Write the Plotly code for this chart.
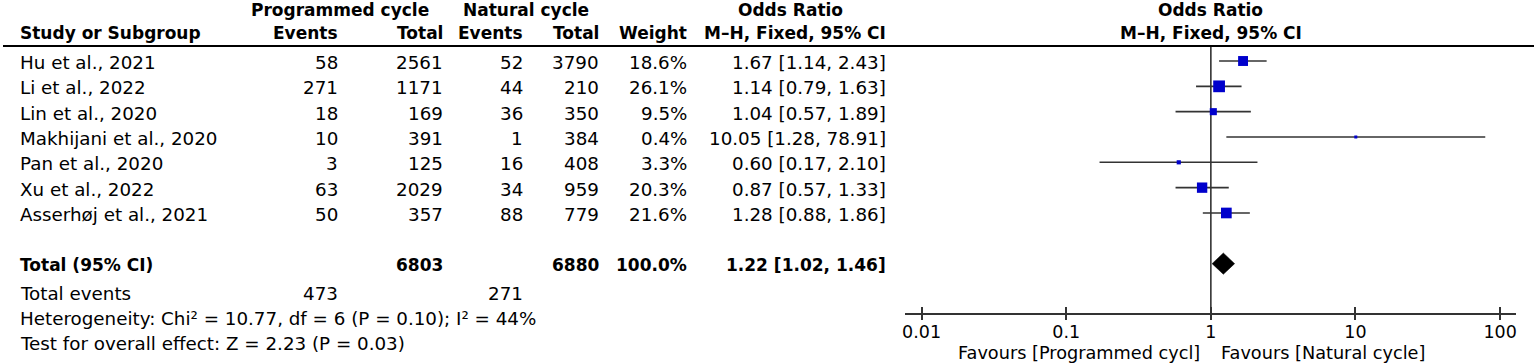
import math
import plotly.graph_objects as go

# ---------------- data ----------------
studies = ["Hu et al., 2021", "Li et al., 2022", "Lin et al., 2020",
           "Makhijani et al., 2020", "Pan et al., 2020", "Xu et al., 2022",
           "Asserhøj et al., 2021"]
prog_events = [58, 271, 18, 10, 3, 63, 50]
prog_total = [2561, 1171, 169, 391, 125, 2029, 357]
nat_events = [52, 44, 36, 1, 16, 34, 88]
nat_total = [3790, 210, 350, 384, 408, 959, 779]
weights = [18.6, 26.1, 9.5, 0.4, 3.3, 20.3, 21.6]
or_est = [1.67, 1.14, 1.04, 10.05, 0.60, 0.87, 1.28]
ci_lo = [1.14, 0.79, 0.57, 1.28, 0.17, 0.57, 0.88]
ci_hi = [2.43, 1.63, 1.89, 78.91, 2.10, 1.33, 1.86]

total_prog = 6803
total_nat = 6880
total_weight = "100.0%"
pooled_or = 1.22
pooled_lo = 1.02
pooled_hi = 1.46
events_prog = 473
events_nat = 271
heterogeneity_text = "Heterogeneity: Chi² = 10.77, df = 6 (P = 0.10); I² = 44%"
overall_text = "Test for overall effect: Z = 2.23 (P = 0.03)"

tick_vals = [0.01, 0.1, 1, 10, 100]
tick_text = ["0.01", "0.1", "1", "10", "100"]
favours_left = "Favours [Programmed cycl]"
favours_right = "Favours [Natural cycle]"

# ---------------- layout constants ----------------
W, H = 1535, 363
ROW0, ROWH = 61.0, 25.33          # pixel of first row, row spacing
FONT = "DejaVu Sans"
FS = 18.3
FSB = 17
FSF = 17.7
FST = 17.5
BLACK = "#000000"
LINEC = "#333333"
BLUE = "#0000CC"


def prow(p):
    """pixel y -> row units"""
    return (p - ROW0) / ROWH


def px(x):
    return x / W


y_top = prow(0)
y_bot = prow(H)
n = len(studies)
total_row = n + 1

fig = go.Figure()

# CI lines
cx, cy = [], []
for i in range(n):
    cx += [ci_lo[i], ci_hi[i], None]
    cy += [i, i, None]
fig.add_trace(go.Scatter(x=cx, y=cy, mode="lines",
                         line=dict(color=LINEC, width=1.6),
                         hoverinfo="skip", showlegend=False))

# squares
fig.add_trace(go.Scatter(x=or_est, y=list(range(n)), mode="markers",
                         marker=dict(symbol="square", color=BLUE, opacity=1,
                                     size=[max(3, 2.3 * math.sqrt(w)) for w in weights],
                                     line=dict(width=0)),
                         showlegend=False))

# diamond
dh = 0.42
fig.add_trace(go.Scatter(x=[pooled_lo, pooled_or, pooled_hi, pooled_or, pooled_lo],
                         y=[total_row, total_row - dh, total_row, total_row + dh, total_row],
                         mode="lines", fill="toself", fillcolor=BLACK,
                         line=dict(color=BLACK, width=0.5), showlegend=False))

shapes = []
# header rule
shapes.append(dict(type="line", xref="paper", yref="y", x0=0, x1=1,
                   y0=prow(46), y1=prow(46), line=dict(color=BLACK, width=2)))
# line of no effect
shapes.append(dict(type="line", xref="x", yref="y", x0=1, x1=1,
                   y0=prow(46), y1=prow(314), line=dict(color=LINEC, width=1.6),
                   layer="below"))

ann = []


def txt(s, x, y, anchor="left", bold=False, yshift=-1.5, size=None):
    ann.append(dict(text=("<b>%s</b>" % s) if bold else s, x=px(x), y=y,
                    xref="paper", yref="y", xanchor=anchor, yanchor="middle",
                    showarrow=False, yshift=yshift, borderpad=0,
                    font=dict(family=FONT, size=size or (FSB if bold else FS),
                              color=BLACK)))


# headers
h1 = prow(10.3)
h2 = prow(33.3)
txt("Programmed cycle", 248, h1, bold=True, yshift=0)
txt("Natural cycle", 460, h1, bold=True, yshift=0)
txt("Odds Ratio", 790, h1, anchor="center", bold=True, yshift=0)
txt("Odds Ratio", 1211, h1, anchor="center", bold=True, yshift=0)
txt("Study or Subgroup", 16, h2, bold=True, yshift=0)
txt("Events", 337, h2, anchor="right", bold=True, yshift=0)
txt("Total", 442, h2, anchor="right", bold=True, yshift=0)
txt("Events", 522, h2, anchor="right", bold=True, yshift=0)
txt("Total", 599, h2, anchor="right", bold=True, yshift=0)
txt("Weight", 687, h2, anchor="right", bold=True, yshift=0)
txt("M–H, Fixed, 95% CI", 886, h2, anchor="right", bold=True, yshift=0)
txt("M–H, Fixed, 95% CI", 1211, h2, anchor="center", bold=True, yshift=0)

# study rows
for i in range(n):
    txt(studies[i], 16, i)
    txt(str(prog_events[i]), 337, i, "right")
    txt(str(prog_total[i]), 442, i, "right")
    txt(str(nat_events[i]), 522, i, "right")
    txt(str(nat_total[i]), 599, i, "right")
    txt("%.1f%%" % weights[i], 687, i, "right")
    txt("%.2f [%.2f, %.2f]" % (or_est[i], ci_lo[i], ci_hi[i]), 886, i, "right")

# total row
txt("Total (95% CI)", 16, total_row, bold=True)
txt(str(total_prog), 442, total_row, "right", bold=True)
txt(str(total_nat), 599, total_row, "right", bold=True)
txt(total_weight, 687, total_row, "right", bold=True)
txt("%.2f [%.2f, %.2f]" % (pooled_or, pooled_lo, pooled_hi), 886, total_row, "right", bold=True)

r_ev = prow(293.3)
txt("Total events", 16, r_ev, yshift=0)
txt(str(events_prog), 337, r_ev, "right", yshift=0)
txt(str(events_nat), 522, r_ev, "right", yshift=0)
txt(heterogeneity_text, 16, prow(318.4), yshift=0)
txt(overall_text, 16, prow(343.7), yshift=0)

# favours labels
txt(favours_left, 1201, prow(353), "right", yshift=0, size=FSF)
txt(favours_right, 1220, prow(353), "left", yshift=0, size=FSF)

xdom = [904 / W, 1517 / W]
xrng = [-2.117, 2.110]
axpos = 1 - 314 / H

fig.update_layout(
    width=W, height=H,
    margin=dict(l=0, r=0, t=0, b=0),
    paper_bgcolor="white", plot_bgcolor="white",
    showlegend=False,
    shapes=shapes, annotations=ann,
    xaxis=dict(type="log", domain=xdom, range=xrng, anchor="free", position=axpos,
               showline=True, linecolor=LINEC, linewidth=1.6,
               ticks="inside", ticklen=6, tickwidth=1.6, tickcolor=LINEC,
               tickvals=tick_vals, ticktext=tick_text, showgrid=False, zeroline=False,
               ticklabelstandoff=2,
               tickfont=dict(family=FONT, size=FST, color=BLACK)),
    xaxis2=dict(type="log", domain=xdom, range=xrng, anchor="free", position=axpos,
                overlaying="x", showline=False, ticks="outside", ticklen=5,
                tickwidth=1.6, tickcolor=LINEC, tickvals=tick_vals,
                showticklabels=False, showgrid=False, zeroline=False),
    yaxis=dict(domain=[0, 1], range=[y_bot, y_top], visible=False,
               showgrid=False, zeroline=False),
)
# invisible trace to activate xaxis2
fig.add_trace(go.Scatter(x=[1], y=[total_row], xaxis="x2", mode="markers",
                         marker=dict(size=0.1, opacity=0), hoverinfo="skip",
                         showlegend=False))

fig.write_html("out.html", config={"displayModeBar": False},
               post_script="document.body.style.margin='0';document.body.style.overflow='hidden';")
